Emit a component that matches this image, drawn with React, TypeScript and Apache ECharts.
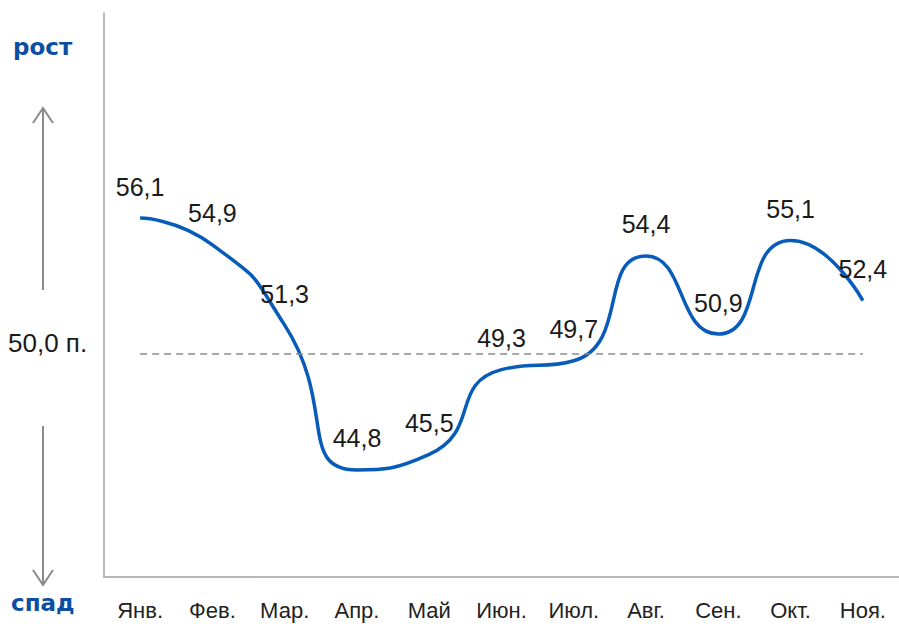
import React, { useEffect, useRef } from "react";
import * as echarts from "echarts";

const months = ["Янв.", "Фев.", "Мар.", "Апр.", "Май", "Июн.", "Июл.", "Авг.", "Сен.", "Окт.", "Ноя."];
const values = [56.1, 54.9, 51.3, 44.8, 45.5, 49.3, 49.7, 54.4, 50.9, 55.1, 52.4];
const baseline = 50;
const baselineLabel = "50,0 п.";
const upLabel = "рост";
const downLabel = "спад";

const FONT = "'Liberation Sans', Arial, sans-serif";
const BOLD_FONT = "'DejaVu Sans', sans-serif";

export default function App() {
  const ref = useRef<HTMLDivElement>(null);
  useEffect(() => {
    document.body.style.margin = "0";
    const chart = echarts.init(ref.current!, null, { renderer: "svg" });
    const gray = "#8a8a8a";
    chart.setOption({
      animation: false,
      grid: { left: 104, right: -5, top: 13, bottom: 47 },
      xAxis: {
        type: "category",
        data: months,
        boundaryGap: true,
        axisLine: { lineStyle: { color: "#a0a0a0", width: 1.5 } },
        axisTick: { show: false },
        axisLabel: { color: "#222", fontSize: 22, fontFamily: FONT, margin: 22 },
      },
      yAxis: {
        type: "value",
        min: 40,
        max: 65.3,
        splitLine: { show: false },
        axisLabel: { show: false },
        axisTick: { show: false },
        axisLine: { show: true, lineStyle: { color: "#a0a0a0", width: 1.5 } },
      },
      series: [
        {
          type: "line",
          data: values,
          smooth: 0.6,
          showSymbol: true,
          symbol: "circle",
          symbolSize: 2,
          itemStyle: { color: "transparent", borderWidth: 0 },
          lineStyle: { color: "#085cb9", width: 3.5 },
          label: {
            show: true,
            position: "top",
            distance: 18,
            color: "#1a1a1a",
            fontSize: 25,
            fontFamily: FONT,
            formatter: (p: any) => String(p.value).replace(".", ","),
          },
          labelLayout: { hideOverlap: false },
          markLine: {
            silent: true,
            symbol: "none",
            label: { show: false },
            lineStyle: { color: gray, type: [7, 5], width: 1.5 },
            data: [[{ coord: [0, baseline] }, { coord: [months.length - 1, baseline] }]],
          },
        },
      ],
      graphic: [
        {
          type: "text",
          left: 13,
          top: 35,
          style: { text: upLabel, fill: "#0b4ea2", fontSize: 23, fontWeight: "bold", fontFamily: BOLD_FONT },
        },
        {
          type: "text",
          left: 11,
          top: 591,
          style: { text: downLabel, fill: "#0b4ea2", fontSize: 23, fontWeight: "bold", fontFamily: BOLD_FONT },
        },
        {
          type: "text",
          left: 8,
          top: 330,
          style: { text: baselineLabel, fill: "#1a1a1a", fontSize: 26, fontFamily: FONT },
        },
        { type: "line", shape: { x1: 43, y1: 108, x2: 43, y2: 290 }, style: { stroke: gray, lineWidth: 2 } },
        {
          type: "polyline",
          shape: { points: [[33, 123], [43, 108], [53, 123]] },
          style: { stroke: gray, lineWidth: 2, fill: null },
        },
        { type: "line", shape: { x1: 43, y1: 426, x2: 43, y2: 585 }, style: { stroke: gray, lineWidth: 2 } },
        {
          type: "polyline",
          shape: { points: [[33, 570], [43, 585], [53, 570]] },
          style: { stroke: gray, lineWidth: 2, fill: null },
        },
      ],
    });
    return () => chart.dispose();
  }, []);
  return <div ref={ref} style={{ width: 899, height: 624 }} />;
}
